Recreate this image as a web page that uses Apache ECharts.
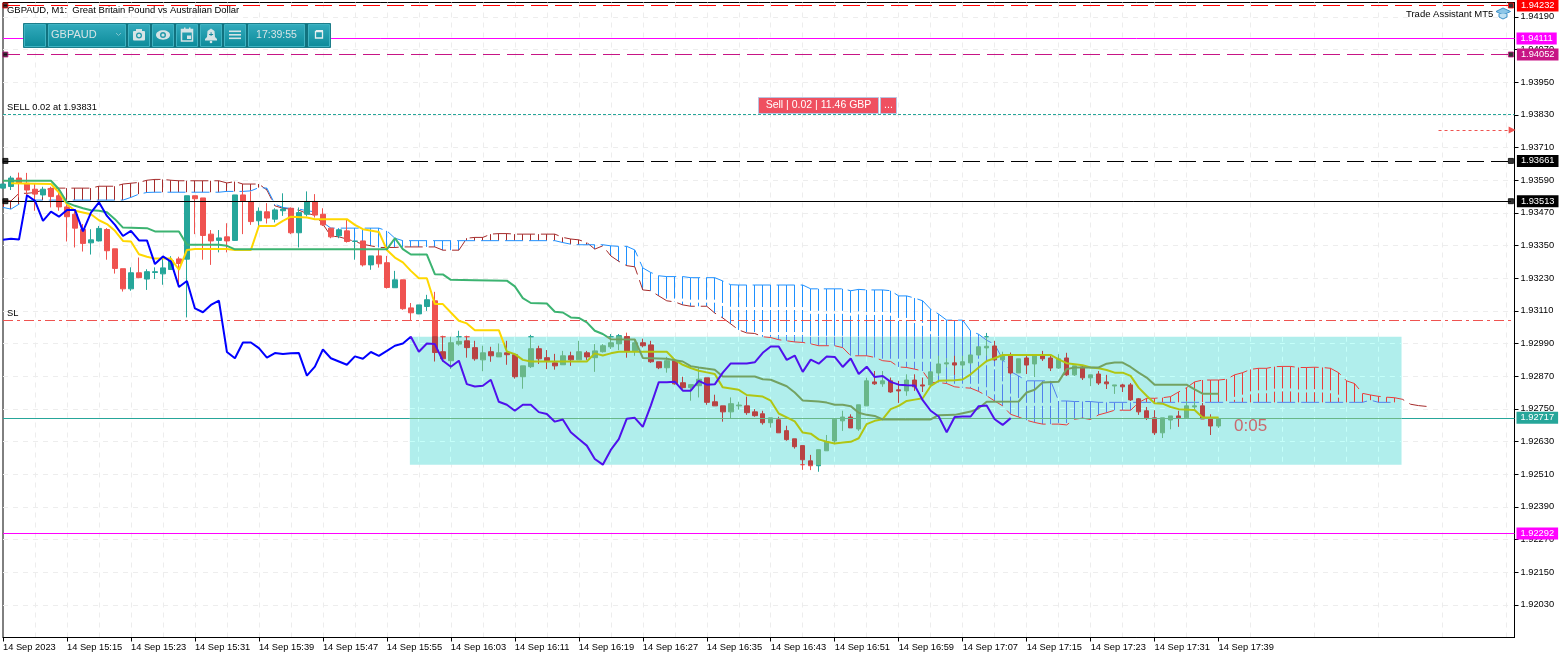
<!DOCTYPE html>
<html><head><meta charset="utf-8"><style>html,body{margin:0;padding:0;background:#fff}#c{width:1567px;height:658px}</style>
<script src="https://cdn.jsdelivr.net/npm/echarts@6/dist/echarts.min.js"></script></head><body><div id="c"></div><script>
// Prices are in points: 93590 means 1.93590. Index 0 is the first bar, one bar per minute.
const timeLabels=["14 Sep 2023","14 Sep 15:15","14 Sep 15:23","14 Sep 15:31","14 Sep 15:39","14 Sep 15:47","14 Sep 15:55","14 Sep 16:03","14 Sep 16:11","14 Sep 16:19","14 Sep 16:27","14 Sep 16:35","14 Sep 16:43","14 Sep 16:51","14 Sep 16:59","14 Sep 17:07","14 Sep 17:15","14 Sep 17:23","14 Sep 17:31","14 Sep 17:39"];
const opens=[93561,93567,93598,93579,93557,93536,93560,93533,93492,93465,93410,93360,93367,93409,93338,93265,93191,93250,93227,93251,93246,93262,93301,93300,93533,93525,93392,93369,93382,93369,93536,93512,93441,93474,93447,93478,93487,93397,93465,93512,93465,93414,93386,93404,93365,93367,93279,93312,93287,93195,93224,
93121,93099,93126,93147,92960,92927,92988,93000,92975,92930,92960,92941,92956,92949,92868,92905,92971,92938,92919,92912,92945,92930,92956,92938,92960,92978,92989,93015,92963,92993,92985,92923,92901,92927,92846,92828,92835,92864,92776,92761,92739,92761,92761,92739,92732,92699,92710,92670,92640,92615,92559,92541,
92596,92632,92706,92720,92676,92761,92849,92842,92853,92820,92816,92856,92838,92838,92882,92915,92919,92911,92919,92948,92974,92981,92930,92945,92882,92937,92915,92945,92937,92900,92937,92875,92904,92864,92878,92849,92834,92838,92838,92787,92743,92717,92662,92709,92724,92717,92757,92761,92713,92687];
const closes=[93576,93598,93579,93554,93539,93557,93530,93492,93456,93414,93358,93371,93413,93331,93266,93191,93250,93232,93254,93254,93268,93294,93284,93533,93522,93387,93367,93378,93367,93536,93514,93438,93476,93451,93481,93484,93397,93471,93512,93462,93426,93382,93408,93365,93367,93279,93312,93283,93196,93224,93118,
93103,93132,93151,92957,92934,92993,92998,92975,92934,92956,92945,92956,92949,92868,92908,92971,92934,92927,92908,92945,92930,92960,92941,92963,92982,92993,93019,92963,92993,92982,92923,92901,92927,92842,92828,92839,92859,92774,92761,92739,92769,92764,92736,92725,92699,92717,92662,92637,92611,92563,92541,92600,
92629,92712,92720,92680,92765,92853,92842,92853,92812,92816,92856,92831,92834,92886,92915,92919,92911,92923,92948,92978,92980,92930,92945,92882,92934,92911,92945,92934,92900,92934,92875,92908,92864,92875,92845,92842,92838,92831,92783,92739,92717,92662,92717,92724,92717,92761,92761,92713,92687,92713];
const lows=[93561,93554,93527,93514,93478,93527,93490,93478,93365,93343,93328,93317,93365,93298,93247,93181,93184,93230,93187,93227,93206,93262,93205,93086,93392,93298,93279,93325,93325,93367,93392,93426,93419,93431,93435,93459,93392,93343,93457,93453,93422,93377,93377,93361,93298,93273,93261,93269,93192,93195,93114,
93076,93098,93110,92924,92924,92896,92982,92938,92927,92888,92923,92941,92912,92861,92824,92900,92915,92896,92894,92912,92908,92930,92930,92886,92957,92970,92966,92938,92945,92976,92919,92896,92883,92839,92824,92780,92792,92765,92761,92703,92716,92747,92728,92721,92692,92681,92662,92633,92604,92526,92525,92519,
92596,92620,92669,92680,92669,92761,92838,92831,92809,92772,92798,92816,92812,92834,92871,92902,92875,92896,92914,92945,92945,92926,92925,92877,92882,92878,92867,92926,92889,92897,92871,92871,92856,92834,92838,92823,92805,92812,92779,92728,92709,92654,92643,92675,92684,92717,92749,92713,92654,92680];
const highs=[93576,93606,93618,93617,93576,93566,93566,93561,93514,93484,93429,93410,93422,93414,93338,93265,93270,93306,93263,93270,93304,93311,93309,93533,93533,93525,93407,93407,93432,93536,93551,93549,93490,93506,93487,93542,93490,93490,93549,93539,93487,93414,93408,93447,93367,93367,93312,93334,93312,93257,93224,
93139,93132,93169,93180,93019,93015,93037,93019,93000,92982,92978,92990,93000,92949,92908,93022,92982,92966,92952,92963,92960,93000,92963,92988,92988,93025,93025,93030,93006,93008,93000,92923,92941,92927,92868,92839,92902,92864,92802,92761,92792,92776,92795,92749,92743,92717,92721,92688,92640,92615,92581,92600,
92654,92712,92743,92730,92765,92865,92889,92889,92865,92853,92877,92877,92865,92886,92945,92936,92945,92945,92948,92978,93029,93000,92960,92957,92934,92945,92945,92963,92945,92951,92956,92908,92911,92875,92889,92875,92838,92842,92845,92790,92757,92745,92717,92724,92743,92779,92779,92772,92730,92718];
const tenkan=[[1,93579],[6,93576],[7,93545],[8,93502],[9,93478],[11,93465],[12,93443],[13,93429],[14,93404],[15,93367],[16,93365],[17,93318],[18,93309],[19,93302],[21,93302],[22,93261],[23,93334],[24,93337],[28,93337],[29,93334],[31,93334],[32,93422],[34,93422],[35,93441],[36,93456],[38,93453],[39,93447],[43,93447],[44,93426],[45,93410],[47,93400],[48,93334],[49,93306],[50,93288],[51,93257],[52,93230],[53,93230],[54,93135],[55,93135],[56,93104],[57,93074],[58,93064],[59,93039],[62,93039],[63,92961],[64,92951],[65,92930],[66,92924],[73,92924],[74,92954],[75,92946],[76,92954],[77,92960],[83,92960],[84,92930],[85,92912],[86,92900],[87,92890],[88,92884],[89,92878],[90,92829],[91,92825],[92,92820],[93,92801],[94,92798],[95,92795],[96,92780],[97,92733],[98,92719],[99,92704],[100,92663],[101,92659],[102,92638],[103,92629],[104,92623],[105,92626],[106,92629],[107,92642],[108,92694],[109,92706],[110,92712],[111,92749],[112,92761],[113,92779],[114,92784],[115,92789],[116,92834],[117,92853],[119,92855],[120,92858],[121,92877],[122,92902],[123,92926],[124,92936],[125,92948],[131,92948],[132,92932],[133,92918],[134,92914],[135,92910],[136,92902],[137,92899],[138,92893],[139,92883],[140,92883],[141,92871],[142,92828],[143,92798],[144,92771],[145,92769],[146,92757],[147,92749],[149,92746],[150,92718],[152,92718]];
const kijun=[[0,93588],[6,93588],[7,93557],[8,93508],[9,93496],[10,93487],[11,93480],[12,93478],[13,93472],[14,93447],[15,93416],[18,93414],[19,93402],[22,93402],[23,93353],[27,93353],[28,93349],[29,93336],[48,93336],[49,93377],[50,93337],[51,93317],[53,93317],[54,93245],[55,93244],[56,93224],[59,93223],[63,93221],[64,93200],[65,93157],[66,93139],[68,93137],[69,93107],[70,93104],[71,93086],[72,93084],[73,93068],[74,93037],[75,93025],[76,93006],[79,93005],[80,92937],[83,92934],[84,92929],[85,92924],[86,92907],[87,92902],[89,92894],[90,92869],[94,92869],[95,92859],[96,92857],[97,92845],[98,92833],[99,92810],[100,92781],[102,92777],[103,92773],[104,92765],[105,92765],[106,92760],[107,92736],[108,92728],[109,92724],[110,92711],[116,92711],[117,92727],[119,92728],[120,92734],[121,92740],[122,92752],[123,92776],[127,92777],[128,92810],[129,92820],[130,92847],[132,92850],[133,92896],[134,92902],[137,92902],[138,92916],[139,92920],[140,92920],[141,92904],[142,92883],[143,92865],[144,92839],[148,92839],[149,92822],[150,92806],[152,92806]];
const chikou=[93371,93375,93372,93535,93514,93441,93475,93456,93481,93481,93402,93471,93509,93459,93426,93385,93404,93369,93369,93282,93310,93291,93198,93220,93119,93105,93132,93148,92959,92936,92994,92994,92973,92938,92955,92952,92954,92955,92872,92905,92968,92936,92924,92912,92943,92934,92959,92945,92963,92982,92990,93015,92960,92990,92988,92927,92905,92927,92841,92832,92835,92857,92776,92765,92743,92765,92765,92738,92731,92703,92711,92664,92639,92615,92566,92545,92599,92639,92714,92717,92684,92762,92848,92848,92850,92817,92817,92853,92839,92840,92883,92917,92917,92917,92921,92956,92979,92979,92930,92946,92886,92931,92916,92942,92941,92904,92935,92878,92905,92867,92871,92849,92839,92837,92836,92782,92743,92722,92664,92720,92722,92722,92760,92762,92712,92691,92716];
const spanA=[93514,93514,93542,93542,93545,93554,93560,93561,93561,93561,93561,93561,93568,93568,93568,93576,93579,93582,93590,93593,93593,93590,93588,93588,93588,93588,93588,93588,93580,93585,93576,93576,93576,93554,93496,93487,93484,93480,93468,93462,93429,93385,93382,93374,93365,93355,93349,93343,93343,93343,93345,93345,93345,93345,93345,93333,93333,93333,93377,93380,93380,93392,93394,93394,93392,93392,93392,93392,93392,93392,93380,93374,93371,93361,93337,93349,93312,93292,93276,93272,93187,93184,93165,93147,93143,93132,93127,93127,93127,93102,93084,93062,93040,93029,93027,93015,93012,93004,93000,92996,92994,92989,92982,92982,92982,92975,92945,92945,92945,92939,92927,92924,92904,92902,92896,92889,92847,92847,92843,92831,92828,92826,92814,92798,92779,92761,92730,92720,92708,92700,92694,92694,92694,92691,92712,92716,92711,92728,92736,92745,92745,92745,92773,92789,92789,92791,92795,92812,92828,92849,92856,92856,92856,92859,92875,92883,92895,92899,92899,92905,92906,92906,92902,92902,92903,92902,92899,92883,92853,92843,92807,92801,92796,92793,92791,92785,92767,92762,92759];
const spanB=[93490,93484,93502,93514,93517,93517,93517,93517,93517,93517,93517,93517,93517,93517,93517,93517,93527,93539,93545,93546,93546,93546,93546,93546,93546,93546,93546,93546,93549,93549,93549,93551,93563,93561,93502,93490,93486,93484,93478,93474,93435,93414,93414,93414,93414,93414,93414,93414,93404,93377,93368,93368,93368,93368,93368,93368,93368,93368,93368,93368,93368,93368,93368,93368,93368,93368,93368,93368,93368,93368,93361,93355,93353,93353,93353,93353,93349,93347,93347,93334,93268,93251,93239,93236,93236,93236,93232,93232,93232,93232,93220,93206,93205,93205,93205,93205,93205,93205,93205,93205,93205,93191,93191,93191,93191,93191,93184,93189,93187,93187,93187,93184,93165,93165,93157,93147,93116,93098,93076,93076,93076,93036,93024,93002,92987,92932,92887,92871,92853,92853,92853,92853,92779,92779,92777,92777,92777,92774,92774,92774,92774,92774,92774,92774,92774,92774,92774,92774,92774,92774,92774,92774,92774,92774,92774,92774,92774,92774,92774,92774,92774,92774,92774,92774,92774,92774,92774,92774,92774,92774,92774,92782,92774,92774,92774];
const levelPrices={alert:94232,magentaTop:94111,purple:94052,sell:93831,blackDash:93661,black:93513,sl:93077,bid:92717,magentaLow:92292,arrow:93775};
const box={x0:50.875,x1:174.875,top:93015,bottom:92545};

const UP='#26a69a',DOWN='#ef5350',UP_IN='#69b789',DOWN_IN='#b84343';
const FONT="'Liberation Sans',sans-serif";
const AXMAX=189,A0=0.3,A1=188.55;
const price=v=>(1+v/1e5).toFixed(5);
const clamp=(v,a,b)=>Math.min(b,Math.max(a,v));
function style(c){return {color:c,color0:c,borderColor:c,borderColor0:c,borderColorDoji:c};}
const outBars=[],inBars=[];
opens.forEach((o,i)=>{
  const c=closes[i],l=lows[i],h=highs[i],up=c>=o;
  const part=(lo,hi)=>[i,clamp(o,lo,hi),clamp(c,lo,hi),clamp(l,lo,hi),clamp(h,lo,hi)];
  const outStyle=style(up?UP:DOWN),inStyle=style(up?UP_IN:DOWN_IN);
  if(i<box.x0){outBars.push({value:[i,o,c,l,h],itemStyle:outStyle});return;}
  if(h>box.top)outBars.push({value:part(box.top,1e9),itemStyle:outStyle});
  if(l<box.bottom)outBars.push({value:part(-1e9,box.bottom),itemStyle:outStyle});
  if(h>box.bottom&&l<box.top)inBars.push({value:part(box.bottom,box.top),itemStyle:inStyle});
});
const candle=(data)=>({type:'candlestick',data,z:4,barWidth:5,encode:{x:0,y:[1,2,3,4]},itemStyle:{borderWidth:1},silent:true});
const ln=(data,z)=>({type:'line',data,z,showSymbol:false,symbol:'none',lineStyle:{width:2},silent:true,animation:false});
function level(p,color,dash,tag,opts={}){
  return [{coord:[opts.x0??0,p],lineStyle:{color,width:opts.width||1,type:dash},symbol:'none',
    label:tag?{show:true,position:'end',distance:opts.x1===A1?6:2,formatter:price(p),color:'#fff',backgroundColor:tag,padding:[2,4,1,4],fontSize:9.3,fontFamily:FONT}:{show:false}},
    {coord:[opts.x1??AXMAX,p],symbol:'none'}];
}
const markLines=[
 level(levelPrices.alert,'#ff0000',[17,7],'#ff0000',{x1:A1}),
 level(levelPrices.magentaTop,'#ff00ff','solid','#ff00ff'),
 level(levelPrices.purple,'#c71585',[17,7],'#c71585',{x1:A1}),
 level(levelPrices.sell,'#26a69a',[3,2],null),
 level(levelPrices.blackDash,'#000',[17,7],'#000',{x1:A1}),
 level(levelPrices.black,'#000','solid','#000',{x1:A1}),
 level(levelPrices.sl,'#ef5350',[10,4,3,4],null),
 level(levelPrices.bid,'#26a69a','solid',null,{x1:box.x0}),
 level(levelPrices.bid,'#69b789','solid',null,{x0:box.x0,x1:box.x1}),
 level(levelPrices.bid,'#26a69a','solid','#26a69a',{x0:box.x1}),
 level(levelPrices.magentaLow,'#ff00ff','solid','#ff00ff'),
 [{coord:[179.5,levelPrices.arrow],lineStyle:{color:'#ef5350',width:1,type:[3,3]},symbol:'none',label:{show:false}},{coord:[188.7,levelPrices.arrow],symbol:'triangle',symbolSize:7,symbolRotate:-90}]
];
const anchors=[];
[[levelPrices.alert,'#ff0000'],[levelPrices.purple,'#c71585'],[levelPrices.blackDash,'#000'],[levelPrices.black,'#000']].forEach(([p,c])=>{
  [A0,A1].forEach(x=>anchors.push({value:[x,p],itemStyle:{color:'#000',borderColor:c,borderWidth:1}}));
});
const cloudRows=spanA.map((a,i)=>[i,a,spanB[i]]);
const vertical={type:'custom',z:3,silent:true,data:cloudRows,encode:{x:0,y:[1,2]},clip:true,
 renderItem(params,api){
  const i=api.value(0),a=api.value(1),b=api.value(2);
  const hi=Math.max(a,b),lo=Math.min(a,b);
  const inX=i>box.x0&&i<box.x1,aTop=a>b;
  const outC=aTop?'#a52a2a':'#1e90ff',inC=aTop?'#ea3b39':'#5181ec';
  const x=Math.floor(api.coord([i,hi])[0])+.5;
  const seg=(p,q,c)=>({type:'line',shape:{x1:x,y1:api.coord([i,p])[1],x2:x,y2:api.coord([i,q])[1]},style:{stroke:c,lineWidth:1,lineDash:[22,3]}});
  const ch=[];
  if(!inX||lo>=box.top)ch.push(seg(hi,lo,outC));
  else if(hi<=box.top)ch.push(seg(hi,lo,inC));
  else{ch.push(seg(hi,box.top,outC));ch.push(seg(box.top,lo,inC));}
  return {type:'group',children:ch};
 }};
// the page's dashed grid shows pale over the shaded box
const boxGrid={type:'custom',z:1.5,silent:true,data:[[box.x0,box.top]],encode:{x:0,y:1},
 renderItem(params,api){
  const ch=[],s={stroke:'#c4fff9',lineWidth:1,lineDash:[5,5]};
  const top=api.coord([box.x0,box.top])[1],bot=api.coord([box.x0,box.bottom])[1],l=api.coord([box.x0,box.top])[0],r=api.coord([box.x1,box.top])[0];
  for(let i=52;i<box.x1;i+=4){const x=Math.floor(api.coord([i,box.top])[0])+.5;ch.push({type:'line',shape:{x1:x,y1:top,x2:x,y2:bot},style:s});}
  for(let p=91910;p<box.top;p+=120){if(p>box.bottom){const y=Math.floor(api.coord([box.x0,p])[1])+.5;ch.push({type:'line',shape:{x1:l,y1:y,x2:r,y2:y},style:s});}}
  return {type:'group',children:ch};
 }};

// toolbar drawing
const barG={type:'linear',x:0,y:0,x2:0,y2:1,colorStops:[{offset:0,color:'#33abbd'},{offset:1,color:'#0c8a99'}]};
const ICON='#d6e4e6';
function btn(x,w){return {type:'rect',shape:{x:x+.5,y:24.5,width:w-1,height:22},style:{fill:barG,stroke:'#3fb3c2',lineWidth:1}};}
const toolbar=[
 {type:'rect',shape:{x:23.5,y:23.5,width:307,height:24},style:{fill:'#11727f',stroke:'#1c7d8a'}},
 btn(24,22),btn(48,78),btn(128,22),btn(152,22),btn(176,22),btn(200,22),btn(224,22),btn(248,57),btn(308,22),
 {type:'text',x:51,y:35,style:{text:'GBPAUD',fill:ICON,font:"11px 'Liberation Sans'",textVerticalAlign:'middle'}},
 {type:'polyline',shape:{points:[[116,33],[118.5,35.5],[121,33]]},style:{stroke:'#7fc3cc',lineWidth:1,fill:null}},
 {type:'rect',shape:{x:133,y:31,width:12,height:9.5,r:1},style:{fill:ICON}},{type:'rect',shape:{x:136,y:29,width:6,height:3},style:{fill:ICON}},{type:'circle',shape:{cx:139,cy:35.5,r:3},style:{fill:'#2099a9'}},{type:'circle',shape:{cx:139,cy:35.5,r:1.7},style:{fill:ICON}},
 {type:'ellipse',shape:{cx:163,cy:35,rx:7,ry:4.7},style:{fill:ICON}},{type:'circle',shape:{cx:163,cy:35,r:3},style:{fill:'#2099a9'}},{type:'circle',shape:{cx:163,cy:35,r:1.6},style:{fill:ICON}},
 {type:'rect',shape:{x:181.5,y:29.5,width:11,height:11.5},style:{fill:'none',stroke:ICON,lineWidth:1.5}},{type:'rect',shape:{x:181,y:29,width:12,height:3.5},style:{fill:ICON}},{type:'rect',shape:{x:187,y:35.5,width:4,height:3.5},style:{fill:ICON}},{type:'rect',shape:{x:184,y:27.5,width:1.5,height:2.5},style:{fill:ICON}},{type:'rect',shape:{x:189,y:27.5,width:1.5,height:2.5},style:{fill:ICON}},
 {type:'polygon',shape:{points:[[211,28.5],[214.5,31],[215,37],[217,39],[217,40.5],[205,40.5],[205,39],[207,37],[207.5,31]]},style:{fill:ICON}},{type:'circle',shape:{cx:211,cy:42,r:1.3},style:{fill:ICON}},{type:'text',x:211,y:35,style:{text:'+',fill:'#17899a',font:"bold 8px 'Liberation Sans'",textAlign:'center',textVerticalAlign:'middle'}},
 {type:'rect',shape:{x:229,y:30.5,width:12,height:1.6},style:{fill:ICON}},{type:'rect',shape:{x:229,y:34,width:12,height:1.6},style:{fill:ICON}},{type:'rect',shape:{x:229,y:37.5,width:12,height:1.6},style:{fill:ICON}},
 {type:'text',x:276.5,y:35,style:{text:'17:39:55',fill:ICON,font:"10.5px 'Liberation Sans'",textAlign:'center',textVerticalAlign:'middle'}},
 {type:'rect',shape:{x:315.5,y:31.5,width:7,height:6.5},style:{fill:'none',stroke:'#e6eff1',lineWidth:1.3}},{type:'rect',shape:{x:316,y:30,width:7,height:1.6},style:{fill:'#e6eff1'}}
];
const texts=[
 {type:'text',x:7,y:10,style:{text:'GBPAUD, M1:  Great Britain Pound vs Australian Dollar',fill:'#000',font:"9.45px "+FONT,textVerticalAlign:'middle'}},
 {type:'text',x:7,y:107.5,style:{text:'SELL 0.02 at 1.93831',fill:'#000',font:"9.3px "+FONT,textVerticalAlign:'middle'}},
 {type:'text',x:7,y:313.5,style:{text:'SL',fill:'#000',font:"9.3px "+FONT,textVerticalAlign:'middle'}},
 {type:'text',x:1406,y:14,style:{text:'Trade Assistant MT5',fill:'#000',font:"9.5px "+FONT,textVerticalAlign:'middle'}},
 {type:'polygon',shape:{points:[[1503,8],[1510.5,11.5],[1503,15],[1496,11.5]]},style:{fill:'#8cc6e8',stroke:'#3a8fc7',lineWidth:1}},
 {type:'polyline',shape:{points:[[1499,14],[1499,17],[1503,19],[1507,17],[1507,14]]},style:{fill:'#bfe0f2',stroke:'#3a8fc7',lineWidth:1}},
 {type:'rect',shape:{x:758.5,y:97.5,width:120,height:16},style:{fill:'#ef5060',stroke:'#b9c4e0',lineWidth:1}},
 {type:'text',x:818.5,y:105.5,style:{text:'Sell | 0.02 | 11.46 GBP',fill:'#fff',font:"10.5px 'Liberation Sans'",textAlign:'center',textVerticalAlign:'middle'}},
 {type:'rect',shape:{x:880.5,y:97.5,width:16,height:16},style:{fill:'#ef5060',stroke:'#b9c4e0',lineWidth:1}},
 {type:'text',x:888.5,y:105.5,style:{text:'...',fill:'#fff',font:"10.5px 'Liberation Sans'",textAlign:'center',textVerticalAlign:'middle'}},
 {type:'text',x:1234,y:426.5,style:{text:'0:05',fill:'#c9686e',font:"17px 'Liberation Sans'",textVerticalAlign:'middle'}}
];
const chart=echarts.init(document.getElementById('c'),null,{renderer:'canvas'});
const gridLine={show:true,showMinLine:false,showMaxLine:false,lineStyle:{color:'#ededed',type:[5,5],width:1}};
const piecesOf=(x,a,b)=>[{lt:x,color:a},{gte:x,lt:400,color:b},{gte:400,color:b}];
chart.setOption({
 animation:false,backgroundColor:'#fff',
 grid:{left:2.5,top:2.5,width:1512,height:635,show:true,borderColor:'#000',borderWidth:1,backgroundColor:'transparent'},
 xAxis:{type:'value',min:0,max:AXMAX,interval:8,
  axisLine:{show:true,onZero:false,lineStyle:{color:'#000'}},axisTick:{show:true,length:4,lineStyle:{color:'#000'},customValues:timeLabels.map((t,k)=>k*8)},
  minorTick:{show:false,splitNumber:2},minorSplitLine:gridLine,splitLine:gridLine,
  axisLabel:{color:'#000',fontSize:9.3,fontFamily:FONT,align:'left',margin:5,hideOverlap:false,showMaxLabel:false,formatter:v=>timeLabels[v/8]||''}},
 yAxis:{type:'value',position:'right',min:91910,max:94243,interval:120,
  axisLine:{show:true,onZero:false,lineStyle:{color:'#000'}},axisTick:{show:true,length:4,lineStyle:{color:'#000'}},splitLine:gridLine,
  axisLabel:{color:'#000',fontSize:9.3,fontFamily:FONT,margin:6,showMaxLabel:false,showMinLabel:false,formatter:v=>price(v)}},
 visualMap:[
  {type:'piecewise',show:false,seriesIndex:3,dimension:0,pieces:[{lt:94.7,color:'#a52a2a'},{gte:94.7,lt:box.x1,color:'#ea3b39'},{gte:box.x1,color:'#a52a2a'}]},
  {type:'piecewise',show:false,seriesIndex:4,dimension:0,pieces:[{lt:122.4,color:'#1e90ff'},{gte:122.4,lt:box.x1,color:'#5181ec'},{gte:box.x1,color:'#1e90ff'}]},
  {type:'piecewise',show:false,seriesIndex:7,dimension:0,pieces:piecesOf(62.7,'#ffd700','#b0c613')},
  {type:'piecewise',show:false,seriesIndex:8,dimension:0,pieces:piecesOf(75.5,'#3cb371','#73a262')},
  {type:'piecewise',show:false,seriesIndex:9,dimension:0,pieces:piecesOf(box.x0,'#0000ff','#4f11ec')}
 ],
 series:[
  {type:'line',data:[],z:1,silent:true,markArea:{silent:true,itemStyle:{color:'#b0eeec'},data:[[{coord:[box.x0,box.top]},{coord:[box.x1,box.bottom]}]]}},
  {type:'line',data:[],z:2,silent:true,markLine:{silent:true,animation:false,precision:5,data:markLines}},
  vertical,
  Object.assign(ln(spanA.map((v,i)=>[i,v]),3),{lineStyle:{width:1,type:[18,6]}}),
  Object.assign(ln(spanB.map((v,i)=>[i,v]),3),{lineStyle:{width:1,type:[18,6]}}),
  candle(outBars),candle(inBars),
  ln(tenkan,5),ln(kijun,5),
  ln(chikou.map((v,i)=>[i,v]),6),
  {type:'scatter',data:anchors,symbol:'rect',symbolSize:5,z:7,silent:true,clip:false},
  boxGrid
 ],
 graphic:{elements:[...texts,...toolbar].map(e=>Object.assign(e,{z:100}))}
});
</script></body></html>
